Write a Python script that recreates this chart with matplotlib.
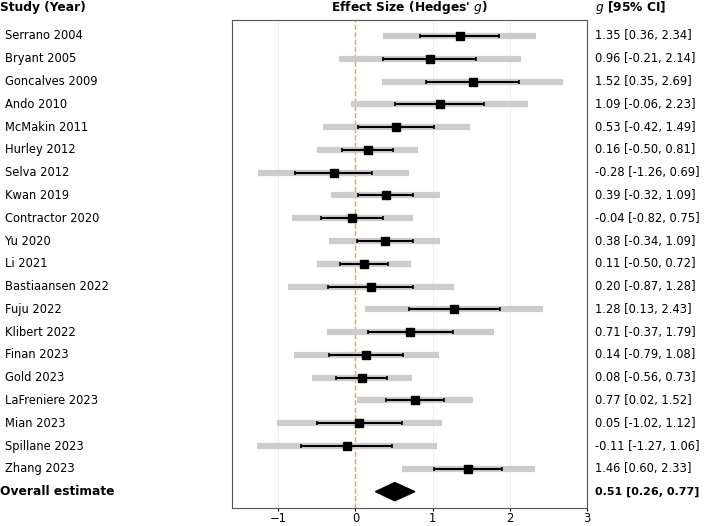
import numpy as np
import matplotlib.pyplot as plt
from matplotlib.transforms import blended_transform_factory
from matplotlib.patches import Polygon

# data
studies = ['Serrano 2004', 'Bryant 2005', 'Goncalves 2009', 'Ando 2010', 'McMakin 2011',
           'Hurley 2012', 'Selva 2012', 'Kwan 2019', 'Contractor 2020', 'Yu 2020', 'Li 2021',
           'Bastiaansen 2022', 'Fuju 2022', 'Klibert 2022', 'Finan 2023', 'Gold 2023',
           'LaFreniere 2023', 'Mian 2023', 'Spillane 2023', 'Zhang 2023']
g = [1.35, 0.96, 1.52, 1.09, 0.53, 0.16, -0.28, 0.39, -0.04, 0.38, 0.11,
     0.20, 1.28, 0.71, 0.14, 0.08, 0.77, 0.05, -0.11, 1.46]
ci_lo = [0.36, -0.21, 0.35, -0.06, -0.42, -0.50, -1.26, -0.32, -0.82, -0.34, -0.50,
         -0.87, 0.13, -0.37, -0.79, -0.56, 0.02, -1.02, -1.27, 0.60]
ci_hi = [2.34, 2.14, 2.69, 2.23, 1.49, 0.81, 0.69, 1.09, 0.75, 1.09, 0.72,
         1.28, 2.43, 1.79, 1.08, 0.73, 1.52, 1.12, 1.06, 2.33]
se = [0.51, 0.60, 0.60, 0.58, 0.49, 0.33, 0.50, 0.36, 0.40, 0.36, 0.31,
      0.55, 0.59, 0.55, 0.48, 0.33, 0.38, 0.55, 0.59, 0.44]
overall = 0.51
overall_lo = 0.26
overall_hi = 0.77

fig = plt.figure(figsize=(7.09, 5.26), dpi=100)
ax = fig.add_axes([0.327, 0.035, 0.501, 0.927])

y = np.arange(len(studies))
ax.axvline(0, color='#f5a623', ls='--', lw=1.0, zorder=1)
for xg in [-1, 1, 2]:
    ax.axvline(xg, color='#eeeeee', lw=0.8, zorder=0)

ax.hlines(y, ci_lo, ci_hi, color='#cccccc', lw=4.5, zorder=2)
ax.errorbar(g, y, xerr=se, fmt='s', color='black', ms=5.5, lw=1.5,
            capsize=1.5, capthick=1.2, zorder=3)

yo = len(studies)
dia = Polygon([[overall_lo, yo], [overall, yo - 0.4], [overall_hi, yo], [overall, yo + 0.4]],
              closed=True, color='black', zorder=3)
ax.add_patch(dia)

ax.set_xlim(-1.6, 3.0)
ax.set_ylim(yo + 0.7, -0.7)
ax.set_yticks([])
ax.set_xticks([-1, 0, 1, 2, 3])
ax.tick_params(axis='x', labelsize=8.3, length=2.5, pad=1)
for s in ax.spines.values():
    s.set_color('#555555')

tr = blended_transform_factory(fig.transFigure, ax.transData)
for i, name in enumerate(studies):
    ax.text(0.007, i, name, transform=tr, va='center', ha='left', fontsize=8.3)
    ax.text(0.839, i, f'{g[i]:.2f} [{ci_lo[i]:.2f}, {ci_hi[i]:.2f}]',
            transform=tr, va='center', ha='left', fontsize=8.3)
ax.text(0.0, yo, 'Overall estimate', transform=tr, va='center', ha='left',
        fontsize=8.8, fontweight='bold')
ax.text(0.839, yo, f'{overall:.2f} [{overall_lo:.2f}, {overall_hi:.2f}]',
        transform=tr, va='center', ha='left', fontsize=8.0, fontweight='bold')

fig.text(0.0, 0.985, 'Study (Year)', va='center', ha='left', fontsize=8.8, fontweight='bold')
fig.text(0.578, 0.985, "Effect Size (Hedges' $g$)", va='center', ha='center',
         fontsize=8.8, fontweight='bold')
fig.text(0.839, 0.985, '$g$ [95% CI]', va='center', ha='left', fontsize=8.8, fontweight='bold')

fig.savefig('out.png', dpi=100)
